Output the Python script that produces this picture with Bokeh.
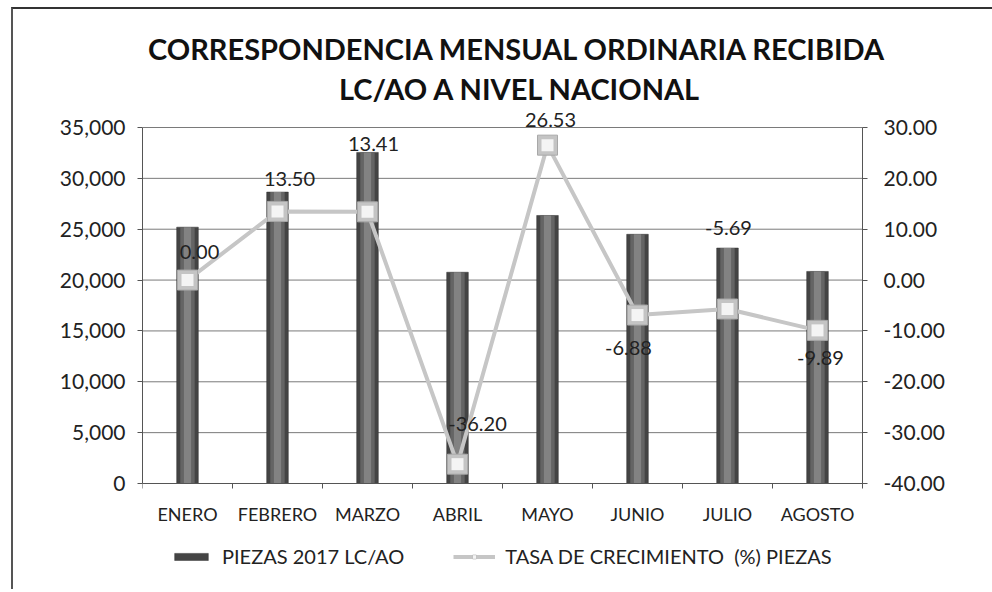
from bokeh.plotting import figure
from bokeh.layouts import column
from bokeh.core.properties import value
from bokeh.models import (ColumnDataSource, Range1d, LinearAxis, FixedTicker, NumeralTickFormatter,
                          Label, Legend, LegendItem, LabelSet)
from bokeh.embed import file_html
from bokeh.resources import INLINE

title_lines = ["CORRESPONDENCIA MENSUAL ORDINARIA RECIBIDA", "LC/AO A NIVEL NACIONAL"]
months = ["ENERO", "FEBRERO", "MARZO", "ABRIL", "MAYO", "JUNIO", "JULIO", "AGOSTO"]
piezas = [25200, 28650, 32550, 20770, 26350, 24500, 23150, 20850]
tasa = [0.00, 13.50, 13.41, -36.20, 26.53, -6.88, -5.69, -9.89]
tasa_labels = ["0.00", "13.50", "13.41", "-36.20", "26.53", "-6.88", "-5.69", "-9.89"]
left_ticks = [0, 5000, 10000, 15000, 20000, 25000, 30000, 35000]
right_ticks = [-40, -30, -20, -10, 0, 10, 20, 30]

# label placement (styling, pixels)
label_dx = [12, 12, 6, 20, 3, -9, 1, 3]
label_dy = [28, 32, 68, 40, 25, -33, 81, -28]

FONT = "Lato"
n = len(months)
xs = [i + 0.5 for i in range(n)]

# layout geometry (pixels)
FIG_W, FIG_H = 979, 580
LEFT = 129
PLOT_W = 720          # width of the 8 month slots
RIGHT = FIG_W - LEFT - PLOT_W  # frame space right of the last slot (right axis labels, title overhang)
TOP = 118             # frame space above the top tick (titles)
PLOT_H = 356          # height of the 0..35000 band
BELOW = FIG_H - TOP - PLOT_H   # frame space under the zero line (labels + legend)

l0, l1 = left_ticks[0], left_ticks[-1]
r0, r1 = right_ticks[0], right_ticks[-1]
lpp = (l1 - l0) / PLOT_H
rpp = (r1 - r0) / PLOT_H
xpp = n / PLOT_W

src = ColumnDataSource(dict(x=xs, piezas=piezas, tasa=tasa, lab=tasa_labels,
                            dx=label_dx, dy=label_dy))

p = figure(width=FIG_W, height=FIG_H, output_backend="svg", toolbar_location=None,
           x_range=Range1d(0, n + RIGHT * xpp),
           y_range=Range1d(l0 - BELOW * lpp, l1 + TOP * lpp),
           min_border_left=LEFT, min_border_right=0, min_border_top=0, min_border_bottom=0)
p.outline_line_color = None
p.background_fill_color = "white"
p.border_fill_color = "white"
p.extra_y_ranges = {"y2": Range1d(r0 - BELOW * rpp, r1 + TOP * rpp)}

# Gridlines across the month slots only
p.xgrid.grid_line_color = None
p.ygrid.grid_line_color = None
p.segment(x0=[0] * len(left_ticks), x1=[n] * len(left_ticks), y0=left_ticks, y1=left_ticks,
          line_color="#7a7a7a", line_width=1)

# Title lines
for txt, dy, dx in zip(title_lines, [79, 39], [15, 18]):
    p.add_layout(Label(x=n / 2, y=l1, x_offset=dx, y_offset=dy, text=txt,
                       text_align="center", text_baseline="middle", text_font=FONT,
                       text_font_size="29px", text_font_style="bold", text_color="#111111"))

# Bars (cylinder-like shading)
bar = p.vbar(x="x", top="piezas", width=0.24, source=src, fill_color="#444444",
             line_color="#2e2e2e", line_width=0.5)
p.vbar(x="x", top="piezas", width=0.16, source=src, fill_color="#646464", line_color=None)
p.vbar(x="x", top="piezas", width=0.08, source=src, fill_color="#828282", line_color=None)

# Line on secondary axis
ln = p.line(x="x", y="tasa", source=src, y_range_name="y2", line_color="#c6c6c6", line_width=4)
mk = p.scatter(x="x", y="tasa", source=src, y_range_name="y2", marker="square", size=20,
               fill_color="#c4c4c4", line_color="#a8a8a8", line_width=1)
mk2 = p.scatter(x="x", y="tasa", source=src, y_range_name="y2", marker="square", size=12,
                fill_color="#f4f4f4", line_color=None)

labels = LabelSet(x="x", y="tasa", text="lab", source=src, y_range_name="y2",
                  x_offset="dx", y_offset="dy", text_align="center", text_baseline="middle",
                  text_font=value(FONT), text_font_size="20px", text_color="#222222")
p.add_layout(labels)

# Axes
p.yaxis.ticker = FixedTicker(ticks=left_ticks)
p.yaxis.bounds = (l0, l1)
p.yaxis.formatter = NumeralTickFormatter(format="0,0")
p.yaxis.major_label_text_font = FONT
p.yaxis.major_label_text_font_size = "21px"
p.yaxis.major_label_text_color = "#222222"
p.yaxis.axis_line_color = "#555555"
p.yaxis.major_tick_line_color = "#555555"
p.yaxis.major_tick_in = 0
p.yaxis.major_tick_out = 5
p.yaxis.minor_tick_line_color = None
p.yaxis.major_label_standoff = 12

ax2 = LinearAxis(y_range_name="y2", ticker=FixedTicker(ticks=right_ticks), bounds=(r0, r1),
                 formatter=NumeralTickFormatter(format="0.00"), fixed_location=n)
ax2.major_label_text_font = FONT
ax2.major_label_text_font_size = "21px"
ax2.major_label_text_color = "#222222"
ax2.axis_line_color = "#555555"
ax2.major_tick_line_color = "#555555"
ax2.major_tick_in = 0
ax2.major_tick_out = 5
ax2.minor_tick_line_color = None
ax2.major_label_standoff = 16
p.add_layout(ax2, "right")

p.xaxis.fixed_location = l0
p.xaxis.bounds = (0, n)
p.xaxis.ticker = FixedTicker(ticks=xs, minor_ticks=list(range(n + 1)))
p.xaxis.major_label_overrides = {x: m for x, m in zip(xs, months)}
p.xaxis.major_label_text_font = FONT
p.xaxis.major_label_text_font_size = "18px"
p.xaxis.major_label_text_color = "#222222"
p.xaxis.major_tick_line_color = None
p.xaxis.minor_tick_line_color = "#555555"
p.xaxis.minor_tick_in = 0
p.xaxis.minor_tick_out = 5
p.xaxis.axis_line_color = "#555555"
p.xaxis.major_label_standoff = 13

legend = Legend(items=[LegendItem(label="PIEZAS 2017 LC/AO", renderers=[bar]),
                       LegendItem(label="TASA DE CRECIMIENTO  (%) PIEZAS", renderers=[ln, mk, mk2])],
                orientation="horizontal", location=(28, 21), border_line_color=None,
                background_fill_alpha=0, label_text_font=FONT, label_text_font_size="20px",
                label_text_color="#222222", glyph_width=42, glyph_height=9, spacing=49,
                label_standoff=10, margin=0, padding=4)
p.add_layout(legend)

layout = column(p, styles={"border-top": "2px solid #333333", "border-left": "2px solid #555555",
                           "margin-left": "11px", "margin-top": "7px"})
open("out.html", "w").write(file_html(layout, INLINE))
